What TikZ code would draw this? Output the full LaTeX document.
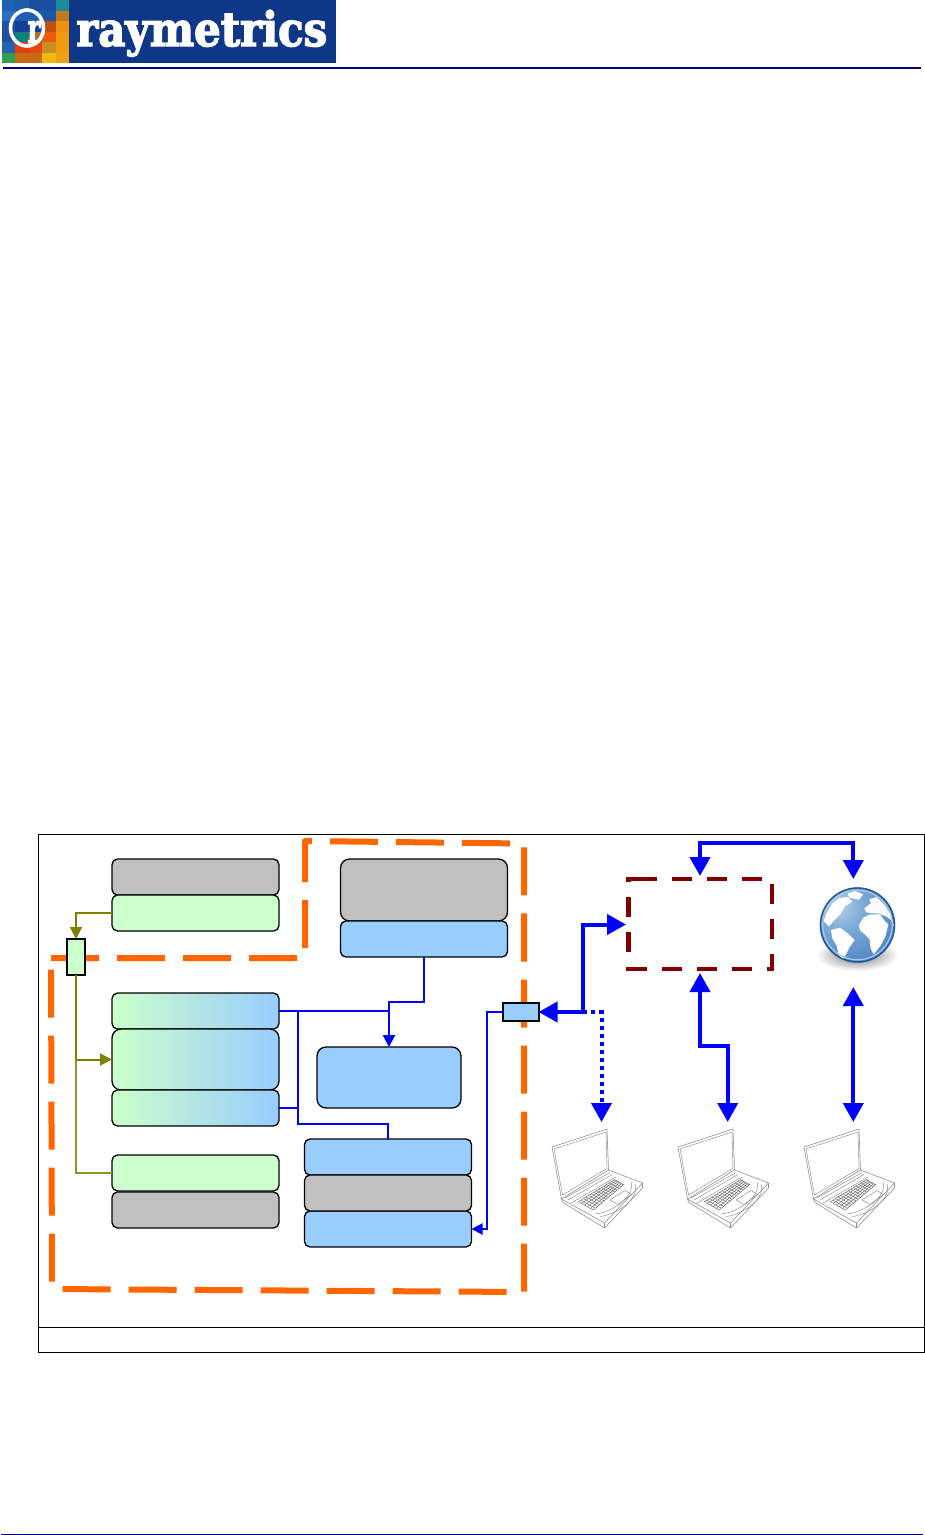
\documentclass[tikz,border=0pt]{standalone}
\usepackage{fontspec}
\newfontfamily\logofont[BoldFeatures={FakeBold=3}]{DejaVu Serif}
\usetikzlibrary{arrows.meta,calc}
\definecolor{cgray}{RGB}{192,192,192}
\definecolor{cgreen}{RGB}{204,255,204}
\definecolor{cblue}{RGB}{153,204,255}
\definecolor{corange}{RGB}{255,102,0}
\definecolor{cmaroon}{RGB}{128,0,0}
\definecolor{colive}{RGB}{128,128,0}
\definecolor{cnavy}{RGB}{0,0,128}
\definecolor{clink}{RGB}{0,0,255}
\definecolor{logobg}{RGB}{15,55,135}
\definecolor{seaA}{RGB}{190,214,238}
\definecolor{seaB}{RGB}{128,172,216}
\definecolor{seaC}{RGB}{84,140,200}
\definecolor{seaD}{RGB}{50,106,172}
\definecolor{seaE}{RGB}{36,88,150}
\pgfdeclareradialshading{globeshade}{\pgfpoint{-0.5cm}{0.5cm}}{%
  color(0bp)=(seaA);
  color(14bp)=(seaB);
  color(32bp)=(seaC);
  color(55bp)=(seaD);
  color(75bp)=(seaE)}
\tikzset{
  box/.style={draw=black,line width=1.3pt,rounded corners=5.5pt,inner sep=0pt,outer sep=0pt},
  bigbox/.style={box,rounded corners=9pt},
  graybox/.style={box,fill=cgray},
  greenbox/.style={box,fill=cgreen},
  bluebox/.style={box,fill=cblue},
  gradbox/.style={box,left color=cgreen,right color=cblue},
  widebox/.style={minimum width=167pt,minimum height=36pt},
  tapbox/.style={draw=black,line width=2pt,inner sep=0pt,outer sep=0pt},
  thinlink/.style={draw=clink,line width=2pt},
  thicklink/.style={draw=clink,line width=4pt},
  oliveline/.style={draw=colive,line width=2pt},
  smalltip/.style={-{Triangle[length=12pt,width=12pt]}},
  bigtip/.style={-{Triangle[length=19pt,width=20pt]}},
  bothtips/.style={{Triangle[length=19pt,width=20pt]}-{Triangle[length=19pt,width=20pt]}},
  rule/.style={draw=cnavy},
  laptop/.pic={
    \begin{scope}[line width=.45pt,draw=black!45,line join=round]
      % lid
      \draw[line width=.55pt] (2,22) -- (57,4) -- (58.5,45) -- (11.5,74) -- cycle;
      \draw (4,24) -- (56,7) -- (57,43.5) -- (12.5,70) -- cycle;
      % base
      \draw[line width=.55pt] (11.5,74) -- (54.5,98) -- (92.5,58) -- (58.5,45);
      \draw[line width=.55pt] (11.5,74) -- (13,77.5) -- (54.5,103) -- (92.5,63) -- (92.5,58);
      \draw (54.5,98) -- (54.5,103);
      % hinge band and palm rest
      \draw (15,73) -- (60,47.5);
      \draw (18,75) -- (62,49.5);
      \draw (21,78) -- (66,52);
      \draw (45,89) .. controls (60,88) and (86,72) .. (81,57);
      \draw (50,91.5) .. controls (66,90) and (90,74) .. (85,59);
      % touchpad
      \draw (60,75) -- (75,65.5) -- (81.5,69.5) -- (68,79.5) -- cycle;
      % keyboard
      \foreach \t in {0,.2,.4,.6,.8,1}
        \draw[black!65,line width=.4pt] ($(28.3,76.7)!\t!(43.3,85)$) -- ($(65,54.3)!\t!(74,59.3)$);
      \foreach \t in {0,.07,...,1.01}
        \draw[black!65,line width=.4pt] ($(28.3,76.7)!\t!(65,54.3)$) -- ($(43.3,85)!\t!(74,59.3)$);
    \end{scope}
  }
}
\begin{document}
\begin{tikzpicture}[x=1pt,y=-1pt]
\useasboundingbox (0,0) rectangle (925,1535);
\fill[white] (0,0) rectangle (925,1535);

% ---- logo ----
\fill[logobg] (69,0) rectangle (336,63);
\foreach \c/\r/\col in {
  0/0/2060B0,1/0/1F5CA8,2/0/1A4FA0,3/0/1A4FA0,4/0/1F8A9A,
  0/1/2A6FC0,1/1/1F60B5,2/1/1F60B5,3/1/1A55A8,4/1/C07A1A,
  0/2/1F50A5,1/2/104098,2/2/104098,3/2/C05010,4/2/F0900F,
  0/3/2050A0,1/3/108080,2/3/A8742A,3/3/F05A10,4/3/F09A10,
  0/4/2A60B0,1/4/E04010,2/4/E84510,3/4/C89020,4/4/F09A10,
  0/5/30A050,1/5/C86A10,2/5/C86A10,3/5/F0B810,4/5/F0A010}{
  \definecolor{tile}{HTML}{\col}
  \fill[tile] ({2+13.4*\c},{10.5*\r}) rectangle ({2+13.4*(\c+1)},{10.5*(\r+1)});
}
\draw[white,line width=3.6pt] (27,28) ellipse[x radius=16.5,y radius=18];
\node[anchor=base,inner sep=0pt,text=white] (logor) at (34,43)
  {\resizebox{13pt}{22pt}{\logofont\bfseries r}};
\node[anchor=base west,inner sep=0pt,text=white] (logotext) at (76,46)
  {\resizebox{251pt}{36pt}{\logofont\bfseries raymetrics}};
\draw[rule,line width=2pt] (3,68) -- (921,68);
\draw[rule,line width=1.6pt] (1,1534.4) -- (923,1534.4);

% ---- frame ----
\draw[black,line width=1pt] (38.5,834.5) rectangle (924,1352);
\draw[black,line width=1pt] (38.5,1327) -- (924,1327);

% ---- orange dashed outline ----
\draw[corange,line width=6pt,dash pattern=on 48pt off 18pt,line join=round]
  (51,958) -- (305,958) -- (305,841) -- (524,843.5) -- (524,1292) -- (52,1289) -- cycle;

% ---- maroon dashed box ----
\draw[cmaroon,line width=4.5pt,dash pattern=on 20pt off 15pt]
  (637,879) -- (772,879) -- (772,969) -- (628.7,969) -- (628.7,879) -- cycle;

% ---- boxes ----
\node[graybox,widebox] (ga) at (195.5,877) {};
\node[greenbox,widebox] (ea) at (195.5,913) {};
\node[graybox,minimum width=167pt,minimum height=62pt,bigbox] (gc) at (424,890) {};
\node[bluebox,minimum width=167pt,minimum height=36pt] (bc) at (424,939) {};
\node[gradbox,widebox] (g1) at (195.5,1011) {};
\node[gradbox,bigbox,minimum width=167pt,minimum height=61pt] (g2) at (195.5,1059.5) {};
\node[gradbox,widebox] (g3) at (195.5,1108) {};
\node[bluebox,bigbox,minimum width=144pt,minimum height=61pt] (bd) at (389,1077.5) {};
\node[graybox,widebox] (gb) at (195.5,1210) {};
\node[greenbox,widebox] (eb) at (195.5,1173) {};
\node[bluebox,widebox] (be1) at (388,1157) {};
\node[bluebox,widebox] (be3) at (388,1229) {};
\node[graybox,widebox] (ge) at (388,1193) {};
\node[tapbox,fill=cgreen,minimum width=18pt,minimum height=36pt] (tg) at (76,957) {};
\node[tapbox,fill=cblue,minimum width=36pt,minimum height=18pt] (tb) at (520.5,1012) {};

% ---- olive links ----
\draw[oliveline,smalltip] (ea.west) -| (tg.north);
\coordinate (oj) at (76,1059.5);
\draw[oliveline,smalltip] (tg.south) -- (oj) -- (g2.west);
\draw[oliveline,draw=colive!85,line width=1.7pt] (oj) |- (eb.west);

% ---- thin blue links ----
\coordinate (bj) at (389,1011);
\coordinate (vj) at (297.5,1011);
\coordinate (vb) at (297.5,1108);
\coordinate (vt) at (297.5,1124);
\draw[thinlink] (g1.east) -- (bj);
\draw[thinlink] (g3.east) -- (vb);
\draw[thinlink] (vj) -- (vt) -| (be1.north);
\draw[thinlink,smalltip] (bc.south) |- (389,1002) -- (bd.north);
\draw[thinlink,-{Triangle[length=11pt,width=11pt]}] (tb.west) -| (487,1229) -- (be3.east);

% ---- thick blue links ----
\coordinate (hub) at (583,1012);
\coordinate (gtop) at (853.3,987);
\coordinate (ln1) at (601.5,1122);
\coordinate (ln2) at (727.7,1122);
\coordinate (ln3) at (853.3,1122);
\coordinate (mt) at (700,876);
\coordinate (mb) at (700,973);
\coordinate (mw) at (626,924.5);
\coordinate (gd) at (853.3,879);
\draw[thicklink,bigtip] (hub) -- (tb.east);
\draw[thicklink,bigtip] (hub) |- (mw);
\draw[thicklink,dash pattern=on 4pt off 4pt,-{Triangle[length=19pt,width=20pt]}] (hub) -| (ln1);
\draw[thicklink,bothtips] (mt) |- (843.3,843.3) -| (gd);
\draw[thicklink,bothtips] (mb) -- (700,1046) -| (ln2);
\draw[thicklink,bothtips] (gtop) -- (ln3);

% ---- globe ----
\shade[inner color=black!55,outer color=white] (857,955) ellipse[x radius=41,y radius=16];
\shade[shading=globeshade] (857.5,925) circle[radius=37.7];
\begin{scope}[shift={(815,885)},x=.3333pt,y=-.3333pt]
  \fill[white] (26,108) -- (42,124) -- (60,104) -- (76,88) -- (90,64) -- (112,50) -- (98,36) -- (72,40) -- (52,56) -- (34,85) -- cycle;
  \fill[white] (103,38) -- (132,44) -- (144,28) -- (120,18) -- (98,26) -- cycle;
  \fill[white] (48,135) -- (75,128) -- (97,144) -- (119,165) -- (103,187) -- (94,207) -- (82,224) -- (70,207) -- (65,182) -- (52,160) -- cycle;
  \fill[white] (131,122) -- (145,98) -- (165,88) -- (195,88) -- (207,105) -- (220,118) -- (212,152) -- (197,182) -- (176,208) -- (167,190) -- (163,162) -- (148,147) -- (136,137) -- cycle;
  \fill[white] (148,70) -- (168,55) -- (163,43) -- (185,36) -- (207,58) -- (228,90) -- (237,125) -- (228,105) -- (215,95) -- (190,85) -- (175,85) -- (153,82) -- cycle;
\end{scope}
\draw[draw={rgb,255:red,170;green,200;blue,230},line width=1.2pt] (857.5,925) circle[radius=34.8];
\draw[draw={rgb,255:red,35;green,85;blue,145},line width=1.4pt] (857.5,925) circle[radius=37];

% ---- laptops ----
\pic at (550,1125) {laptop};
\pic at (676,1125) {laptop};
\pic at (802,1125) {laptop};
\end{tikzpicture}
\end{document}
